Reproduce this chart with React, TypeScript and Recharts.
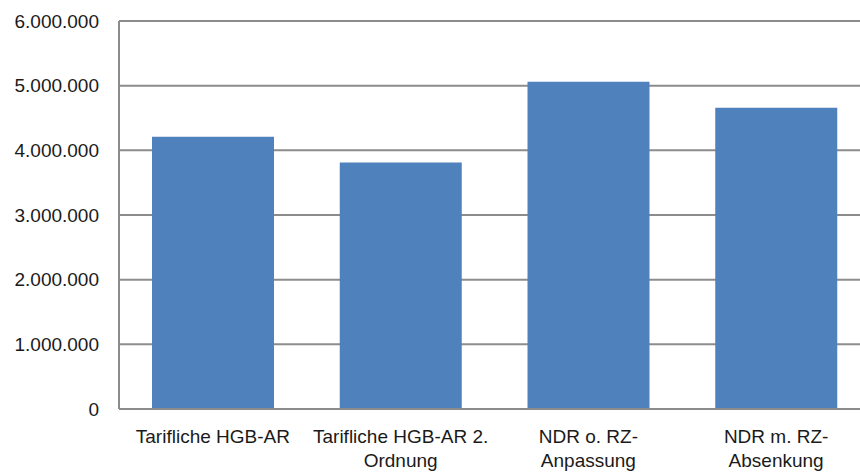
import { BarChart, Bar, XAxis, YAxis, CartesianGrid } from "recharts";

const categories = [
  "Tarifliche HGB-AR",
  "Tarifliche HGB-AR 2.\nOrdnung",
  "NDR o. RZ-\nAnpassung",
  "NDR m. RZ-\nAbsenkung",
];
const values = [4210000, 3810000, 5060000, 4660000];
const yTicks = [0, 1000000, 2000000, 3000000, 4000000, 5000000, 6000000];

const data = categories.map((name, i) => ({ name, value: values[i] }));

const FONT = "'Liberation Sans', Arial, sans-serif";
const GRID = "#8c8c8c";

const fmt = (v: number) => String(v).replace(/\B(?=(\d{3})+(?!\d))/g, ".");

function CategoryTick(props: any) {
  const { x, y, payload } = props;
  const lines = String(payload.value).split("\n");
  return (
    <text x={x} y={y} textAnchor="middle" fill="#1a1a1a" fontSize={19} fontFamily={FONT}>
      {lines.map((line, i) => (
        <tspan key={i} x={x} dy={i === 0 ? 34 : 24}>
          {line}
        </tspan>
      ))}
    </text>
  );
}

export default function App() {
  return (
    <div style={{ position: "fixed", left: 0, top: 0, width: 860, height: 473, overflow: "hidden", background: "#fff" }}>
      <BarChart
        width={880}
        height={473}
        data={data}
        margin={{ top: 21, right: 10, bottom: 0, left: 0 }}
      >
        <CartesianGrid vertical={false} stroke={GRID} strokeWidth={2} />
        <XAxis
          dataKey="name"
          height={64}
          tickLine={false}
          tickSize={0}
          tickMargin={0}
          interval={0}
          axisLine={{ stroke: GRID, strokeWidth: 2 }}
          tick={<CategoryTick />}
        />
        <YAxis
          width={119}
          domain={[0, 6000000]}
          ticks={yTicks}
          tickFormatter={fmt}
          tickLine={false}
          tickSize={0}
          tickMargin={20}
          axisLine={{ stroke: GRID, strokeWidth: 2 }}
          tick={{ fill: "#1a1a1a", fontSize: 19, fontFamily: FONT }}
          interval={0}
        />
        <Bar dataKey="value" fill="#4F81BD" barSize={122} isAnimationActive={false} />
      </BarChart>
    </div>
  );
}
